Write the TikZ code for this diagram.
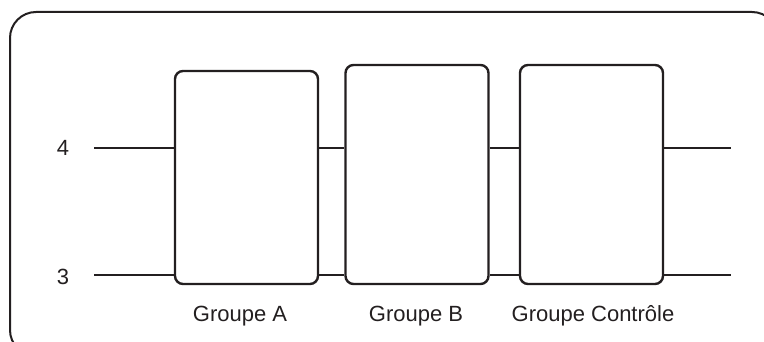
\documentclass[tikz,border=0pt]{standalone}
\usepackage{fontspec}
\setmainfont{Liberation Sans}
\definecolor{ink}{HTML}{231F20}
\begin{document}
\begin{tikzpicture}[x=1pt,y=-1pt,
  grp/.style={draw=ink,line width=2.4pt,rounded corners=8pt,minimum width=143pt,inner sep=0pt},
  lvl/.style={draw=ink,line width=1.7pt},
  lbl/.style={text=ink,font=\fontsize{22}{26}\selectfont,inner sep=0pt}]
\clip (0,0) rectangle (764,342);
\useasboundingbox (0,0) rectangle (764,342);
\draw[ink,line width=2pt,rounded corners=26pt] (10,12) rectangle (778,356);
\node[grp,minimum height=213pt] (A) at (246.5,177.5) {};
\node[grp,minimum height=219pt] (B) at (417,174.5) {};
\node[grp,minimum height=219pt] (C) at (591.5,174.5) {};
\coordinate (l4) at (94,148);
\coordinate (r4) at (731,148);
\coordinate (l3) at (94,275);
\coordinate (r3) at (731,275);
\draw[lvl] (l4) -- (A.west |- l4) (A.east |- l4) -- (B.west |- l4) (B.east |- l4) -- (C.west |- l4) (C.east |- l4) -- (r4);
\draw[lvl] (l3) -- (A.west |- l3) (A.east |- l3) -- (B.west |- l3) (B.east |- l3) -- (C.west |- l3) (C.east |- l3) -- (r3);
\node[lbl] (n4) at (63,148) {4};
\node[lbl] (n3) at (63,277) {3};
\node[lbl] (ga) at (240,316) {Groupe A};
\node[lbl] (gb) at (416,316) {Groupe B};
\node[lbl] (gc) at (593,316) {Groupe Contrôle};
\end{tikzpicture}
\end{document}
